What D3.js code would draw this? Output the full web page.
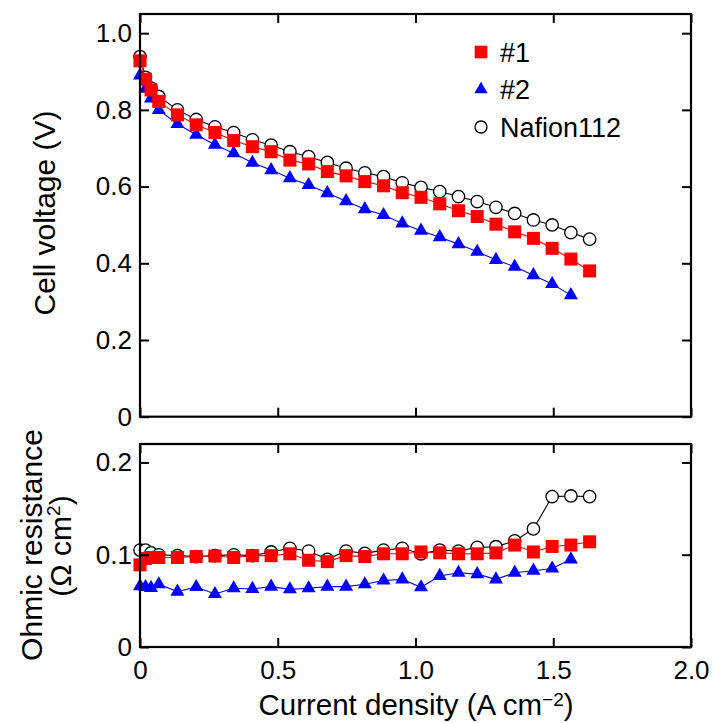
<!DOCTYPE html>
<html><head><meta charset="utf-8">
<script src="https://cdn.jsdelivr.net/npm/d3@7"></script>
<style>
body{margin:0;background:#fff}
svg text{font-family:"Liberation Sans",Arial,Helvetica,sans-serif;fill:#000}
</style>
</head><body>
<svg id="chart" width="714" height="723"></svg>
<script>
// ---- data ----
const currentDensity = [0, 0.02, 0.04, 0.068, 0.136, 0.204, 0.272, 0.34, 0.408, 0.476, 0.544, 0.612, 0.68, 0.748, 0.816, 0.884, 0.952, 1.02, 1.088, 1.156, 1.224, 1.292, 1.36, 1.428, 1.496, 1.564, 1.632];
const seriesNames = ["#1", "#2", "Nafion112"];
const voltage1 = [0.928, 0.88, 0.852, 0.822, 0.787, 0.761, 0.741, 0.72, 0.704, 0.691, 0.669, 0.659, 0.639, 0.628, 0.613, 0.602, 0.584, 0.572, 0.555, 0.537, 0.522, 0.502, 0.482, 0.465, 0.439, 0.411, 0.380];
const voltage2 = [0.89, 0.855, 0.83, 0.80, 0.763, 0.735, 0.709, 0.687, 0.662, 0.643, 0.622, 0.604, 0.583, 0.562, 0.541, 0.526, 0.504, 0.485, 0.468, 0.450, 0.430, 0.409, 0.391, 0.369, 0.346, 0.317];
const voltageNafion = [0.939, 0.885, 0.857, 0.835, 0.800, 0.775, 0.756, 0.741, 0.722, 0.708, 0.691, 0.678, 0.663, 0.648, 0.636, 0.626, 0.610, 0.598, 0.587, 0.574, 0.561, 0.546, 0.530, 0.513, 0.500, 0.480, 0.463];
const resistance1 = [0.089, 0.096, 0.097, 0.097, 0.097, 0.098, 0.0986, 0.097, 0.099, 0.099, 0.101, 0.094, 0.0925, 0.099, 0.098, 0.101, 0.101, 0.103, 0.102, 0.101, 0.101, 0.102, 0.1105, 0.103, 0.109, 0.1105, 0.114];
const resistance2 = [0.066, 0.065, 0.064, 0.068, 0.060, 0.065, 0.0574, 0.0636, 0.0629, 0.0654, 0.0625, 0.0636, 0.0654, 0.0654, 0.068, 0.072, 0.0733, 0.0647, 0.077, 0.0805, 0.079, 0.0733, 0.0805, 0.0827, 0.085, 0.095];
const resistanceNafion = [0.105, 0.105, 0.102, 0.100, 0.099, 0.098, 0.099, 0.100, 0.099, 0.103, 0.107, 0.104, 0.095, 0.104, 0.1015, 0.105, 0.107, 0.101, 0.105, 0.104, 0.108, 0.1087, 0.115, 0.128, 0.163, 0.1637, 0.163];
const xTicks = [0, 0.5, 1.0, 1.5, 2.0];
const xTickLabels = ["0", "0.5", "1.0", "1.5", "2.0"];
const vTicks = [0, 0.2, 0.4, 0.6, 0.8, 1.0];
const vTickLabels = ["0", "0.2", "0.4", "0.6", "0.8", "1.0"];
const rTicks = [0, 0.1, 0.2];
const rTickLabels = ["0", "0.1", "0.2"];

// ---- layout ----
const svg = d3.select("#chart");
const L = 140, R = 691;
const top1 = 14, bot1 = 416.7, top2 = 444, bot2 = 647;
const x = d3.scaleLinear().domain([0, 2]).range([L, R]);
const yV = d3.scaleLinear().domain([0, 1.05]).range([bot1, top1]);
const yR = d3.scaleLinear().domain([0, 0.22]).range([bot2, top2]);

const styles = {
  "#1": {color: "#ff0000", shape: "square"},
  "#2": {color: "#0000ff", shape: "triangle"},
  "Nafion112": {color: "#000000", shape: "circle"}
};

function drawMarker(g, shape, color, cx, cy, scale = 1) {
  if (shape === "square") {
    const s = 13 * scale;
    g.append("rect").attr("x", cx - s / 2).attr("y", cy - s / 2).attr("width", s).attr("height", s)
      .attr("fill", color);
  } else if (shape === "triangle") {
    g.append("path").attr("d", d3.symbol(d3.symbolTriangle, 85 * scale * scale)())
      .attr("transform", `translate(${cx},${cy})`).attr("fill", color);
  } else {
    g.append("circle").attr("cx", cx).attr("cy", cy).attr("r", 6.2 * scale)
      .attr("fill", "#fff").attr("stroke", color).attr("stroke-width", 1.3);
  }
}

function panel(yScale, top, bot, ticks, tickLabels, data, showXLabels) {
  const g = svg.append("g");
  data.forEach(([name, vals]) => {
    const st = styles[name];
    const pts = vals.map((v, i) => [currentDensity[i], v]);
    g.append("path").datum(pts)
      .attr("d", d3.line().x(d => x(d[0])).y(d => yScale(d[1])))
      .attr("fill", "none").attr("stroke", st.color).attr("stroke-width", 1.1);
    const mg = g.append("g");
    pts.forEach(p => drawMarker(mg, st.shape, st.color, x(p[0]), yScale(p[1])));
  });
  const fmtY = (d) => tickLabels[ticks.indexOf(d)];
  const fmtX = (d) => xTickLabels[xTicks.indexOf(d)];
  const left = g.append("g").attr("transform", `translate(${L},0)`)
    .call(d3.axisLeft(yScale).tickValues(ticks).tickFormat(fmtY).tickSizeInner(-9).tickSizeOuter(0).tickPadding(8));
  const right = g.append("g").attr("transform", `translate(${R},0)`)
    .call(d3.axisRight(yScale).tickValues(ticks).tickFormat("").tickSizeInner(-9).tickSizeOuter(0));
  const bottom = g.append("g").attr("transform", `translate(0,${bot})`)
    .call(d3.axisBottom(x).tickValues(xTicks).tickFormat(showXLabels ? fmtX : "").tickSizeInner(-9).tickSizeOuter(0).tickPadding(14));
  const topA = g.append("g").attr("transform", `translate(0,${top})`)
    .call(d3.axisTop(x).tickValues(xTicks).tickFormat("").tickSizeInner(-9).tickSizeOuter(0));
  [left, right, bottom, topA].forEach(a => {
    a.select(".domain").remove();
    a.selectAll("line").attr("stroke", "#000").attr("stroke-width", 2);
    a.selectAll("text").attr("font-size", 26).attr("fill", "#000")
      .attr("font-family", '"Liberation Sans",Arial,sans-serif');
  });
  g.append("rect").attr("x", L).attr("y", top).attr("width", R - L).attr("height", bot - top)
    .attr("fill", "none").attr("stroke", "#000").attr("stroke-width", 2.2);
}

panel(yV, top1, bot1, vTicks, vTickLabels,
  [["Nafion112", voltageNafion], ["#2", voltage2], ["#1", voltage1]], false);
panel(yR, top2, bot2, rTicks, rTickLabels,
  [["Nafion112", resistanceNafion], ["#2", resistance2], ["#1", resistance1]], true);

// legend
const lg = svg.append("g");
seriesNames.forEach((n, i) => {
  const cy = 52 + i * 37.5;
  drawMarker(lg, styles[n].shape, styles[n].color, 481, cy, i === 1 ? 0.95 : 0.97);
  lg.append("text").attr("x", 500).attr("y", cy + 9.5).attr("font-size", 27).text(n);
});

// axis titles
svg.append("text").attr("transform", "translate(55,213) rotate(-90)")
  .attr("text-anchor", "middle").attr("font-size", 30).text("Cell voltage (V)");
svg.append("text").attr("transform", "translate(42,545) rotate(-90)")
  .attr("text-anchor", "middle").attr("font-size", 30).text("Ohmic resistance");
const t2 = svg.append("text").attr("transform", "translate(71,546) rotate(-90)")
  .attr("text-anchor", "middle").attr("font-size", 30);
t2.append("tspan").text("(\u03A9 cm");
t2.append("tspan").attr("dy", -11).attr("font-size", 19).text("2");
t2.append("tspan").attr("dy", 11).text(")");
const xt = svg.append("text").attr("x", 416).attr("y", 715)
  .attr("text-anchor", "middle").attr("font-size", 29.5);
xt.append("tspan").text("Current density (A cm");
xt.append("tspan").attr("dy", -9).attr("font-size", 19).text("\u22122");
xt.append("tspan").attr("dy", 9).text(")");
</script>
</body></html>
